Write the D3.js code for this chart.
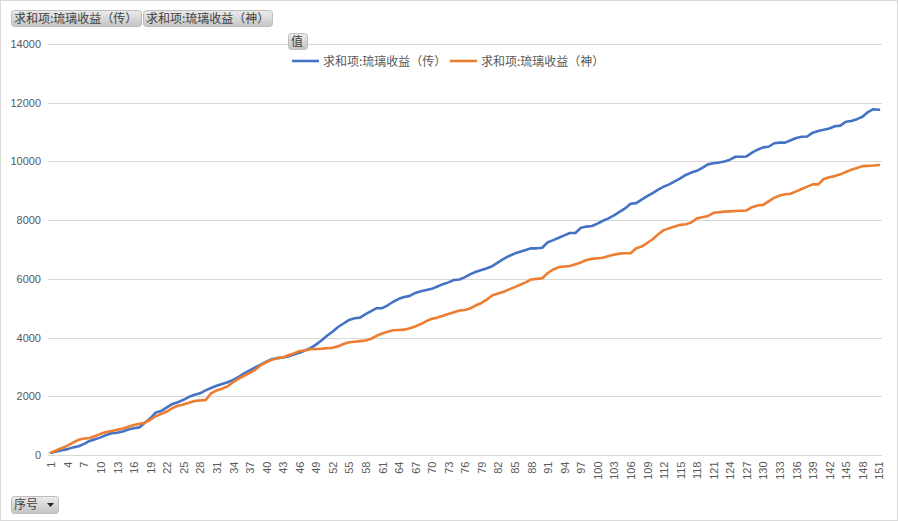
<!DOCTYPE html>
<html><head><meta charset="utf-8">
<script src="https://cdn.jsdelivr.net/npm/d3@7"></script>
<style>
html,body{margin:0;padding:0;background:#fff;}
svg{display:block;}
text{font-family:"Noto Sans CJK SC","Liberation Sans",sans-serif;}
</style></head>
<body>
<svg id="c" width="898" height="521"></svg>
<script>
const seriesNames = ["求和项:琉璃收益（传）", "求和项:琉璃收益（神）"];
const valueButton = "值";
const axisButton = "序号";
const yTicks = [0, 2000, 4000, 6000, 8000, 10000, 12000, 14000];
const chuan = [80,120,160,200,260,300,380,480,540,600,680,740,760,800,870,910,940,1100,1250,1450,
1500,1620,1740,1800,1880,1980,2050,2100,2200,2280,2360,2420,2480,2560,2660,2780,2880,2980,3080,3180,
3260,3300,3320,3360,3420,3480,3560,3640,3760,3900,4060,4200,4360,4480,4600,4660,4680,4800,4900,5000,
5000,5100,5220,5320,5380,5420,5520,5580,5620,5660,5740,5820,5880,5960,5980,6060,6160,6240,6300,6360,
6440,6560,6680,6780,6860,6920,6980,7040,7040,7060,7250,7320,7400,7480,7560,7560,7740,7780,7800,7880,
7980,8060,8160,8280,8400,8560,8580,8700,8820,8920,9040,9140,9220,9320,9420,9540,9620,9680,9780,9900,
9940,9960,10000,10060,10160,10160,10170,10300,10400,10480,10500,10620,10640,10640,10720,10800,10840,10850,10980,11040,
11080,11120,11200,11220,11350,11380,11440,11520,11680,11780,11760];
const shen = [80,160,240,320,420,520,560,580,650,720,780,820,860,900,960,1020,1060,1100,1200,1320,
1400,1480,1600,1680,1720,1780,1840,1860,1870,2100,2200,2260,2340,2480,2600,2700,2800,2900,3060,3160,
3240,3300,3320,3400,3460,3540,3560,3600,3610,3620,3640,3650,3700,3780,3840,3860,3880,3900,3960,4060,
4140,4200,4250,4260,4270,4320,4380,4460,4560,4640,4680,4740,4800,4860,4920,4940,5000,5100,5180,5300,
5440,5500,5560,5640,5720,5800,5880,5980,6000,6020,6200,6320,6400,6420,6440,6500,6560,6640,6680,6700,
6720,6780,6820,6860,6870,6870,7040,7100,7220,7350,7520,7660,7720,7780,7840,7860,7920,8060,8100,8140,
8250,8270,8290,8300,8310,8320,8330,8440,8500,8520,8640,8760,8840,8880,8900,8980,9060,9140,9220,9220,
9400,9460,9500,9560,9640,9720,9780,9840,9850,9860,9880];
const categories = d3.range(1, chuan.length + 1);
const colors = ["#4472C4", "#ED7D31"];

const svg = d3.select("#c");
const defs = svg.append("defs");
const g = defs.append("linearGradient").attr("id","btn").attr("x1",0).attr("y1",0).attr("x2",0).attr("y2",1);
g.append("stop").attr("offset","0%").attr("stop-color","#ececec");
g.append("stop").attr("offset","100%").attr("stop-color","#c4c4c4");

// outer border
svg.append("rect").attr("x",0.5).attr("y",0.5).attr("width",897).attr("height",520)
  .attr("fill","#fff").attr("stroke","#d9d9d9");

const x = d3.scalePoint().domain(categories).range([51, 879]);
const y = d3.scaleLinear().domain([0, 14000]).range([455, 44]);

// gridlines
svg.append("g").selectAll("line").data(yTicks.filter(d=>d>0)).join("line")
  .attr("x1",48).attr("x2",882).attr("y1",d=>Math.round(y(d))+0.5).attr("y2",d=>Math.round(y(d))+0.5)
  .attr("stroke","#d9d9d9");

// y axis
const ya = svg.append("g").attr("transform","translate(48,0)")
  .call(d3.axisLeft(y).tickValues(yTicks).tickSize(0).tickPadding(7).tickFormat(d3.format("d")));
ya.select(".domain").remove();
ya.selectAll("text").attr("fill","#595959").style("font-family","'Liberation Sans',sans-serif").style("font-size","11px");

// x axis
const xa = svg.append("g").attr("transform","translate(0,455.5)")
  .call(d3.axisBottom(x).tickValues(categories.filter(d=>(d-1)%3===0)).tickSize(0));
xa.select(".domain").attr("stroke","#d9d9d9").attr("d","M48,0H882");
xa.selectAll("text").attr("fill","#595959").style("font-family","'Liberation Sans',sans-serif").style("font-size","11px")
  .attr("transform","rotate(-90)").attr("text-anchor","end").attr("x",-6).attr("y",0).attr("dy","0.35em");

// lines
const line = d3.line().x((d,i)=>x(categories[i])).y(d=>y(d));
[chuan, shen].forEach((s,k)=>{
  svg.append("path").datum(s).attr("d",line).attr("fill","none")
    .attr("stroke",colors[k]).attr("stroke-width",2.6).attr("stroke-linejoin","round").attr("stroke-linecap","round");
});

// legend
const leg = [{x:292, t:seriesNames[0], c:colors[0]}, {x:450, t:seriesNames[1], c:colors[1]}];
leg.forEach(l=>{
  svg.append("line").attr("x1",l.x).attr("x2",l.x+27).attr("y1",61).attr("y2",61).attr("stroke",l.c).attr("stroke-width",2.6);
  svg.append("text").attr("x",l.x+31).attr("y",65.5).attr("fill","#595959").style("font-size","12px").text(l.t);
});

// buttons
function button(bx, by, w, h, label, arrow){
  svg.append("rect").attr("x",bx+0.5).attr("y",by+0.5).attr("width",w).attr("height",h).attr("rx",3)
    .attr("fill","url(#btn)").attr("stroke","#bdbdbd");
  svg.append("text").attr("x",bx+3).attr("y",by+h/2+4.5).attr("fill","#404040").style("font-size","12px").text(label);
  if(arrow){
    const ax = bx+w-11, ay = by+h/2-1.5;
    svg.append("path").attr("d",`M${ax},${ay}L${ax+7},${ay}L${ax+3.5},${ay+4}Z`).attr("fill","#262626");
  }
}
button(11, 10, 130, 16, seriesNames[0]);
button(143, 10, 129, 16, seriesNames[1]);
button(288, 33, 19, 16, valueButton);
button(11, 496, 47, 17, axisButton, true);
</script>
</body></html>
